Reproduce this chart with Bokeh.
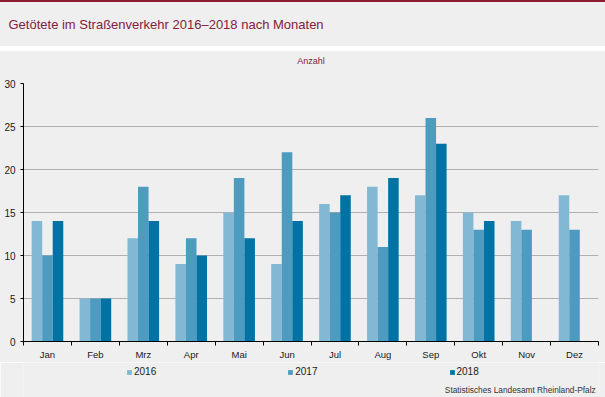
from bokeh.plotting import figure
from bokeh.models import (Range1d, FixedTicker, Legend, LegendItem, Title, ColumnDataSource)
from bokeh.transform import dodge
from bokeh.layouts import column
from bokeh.core.properties import value
from bokeh.embed import file_html
from bokeh.resources import INLINE

months = ["Jan", "Feb", "Mrz", "Apr", "Mai", "Jun", "Jul", "Aug", "Sep", "Okt", "Nov", "Dez"]
y2016 = [14, 5, 12, 9, 15, 9, 16, 18, 17, 15, 14, 17]
y2017 = [10, 5, 18, 12, 19, 22, 15, 11, 26, 13, 13, 13]
y2018 = [14, 5, 14, 10, 12, 14, 17, 19, 23, 14, None, None]
years = ["2016", "2017", "2018"]
colors = ["#82b8d3", "#4d9cc0", "#0072a4"]
y_ticks = [0, 5, 10, 15, 20, 25, 30]

title_text = "Getötete im Straßenverkehr 2016–2018 nach Monaten"
unit_text = "Anzahl"
source_text = "Statistisches Landesamt Rheinland-Pfalz"

FONT = "Liberation Sans"
W = 605
H1 = 362
H2 = 35
BG = "#eeefee"
RED = "#8b1c32"
TITLE_RED = "#84203d"

xs = [i + 0.5 for i in range(len(months))]
src = ColumnDataSource(dict(
    x=xs, m=months, y2016=y2016, y2017=y2017,
    y2018=[float("nan") if v is None else v for v in y2018],
))

# ---------------- chart figure ----------------
p = figure(width=W, height=H1, x_range=Range1d(0, len(months)), y_range=Range1d(0, 30),
           toolbar_location=None, output_backend="svg",
           min_border_left=23, min_border_right=7, min_border_top=83, min_border_bottom=20,
           background_fill_color=BG, border_fill_color=BG, border_fill_alpha=0,
           outline_line_color=None, title=title_text)
# page band: red top rule, grey title band, white separator, grey chart area
p.styles = {"background": ("linear-gradient(to bottom, %s 0px, %s 2px, %s 2px, %s 46px, "
                           "white 46px, white 51px, %s 51px, %s 100%%)")
            % (RED, RED, BG, BG, BG, BG)}
p.title.align = "left"
p.title.text_font = FONT
p.title.text_font_size = "13px"
p.title.text_font_style = "normal"
p.title.text_color = TITLE_RED
p.title.offset = -15
p.title.standoff = 7

xax = p.below[0]
yax = p.left[0]

unit = Title(text=unit_text, align="center", text_font=FONT, text_font_size="9px",
             text_font_style="normal", text_color=TITLE_RED, standoff=36)
p.add_layout(unit, "above")

offsets = [-0.22, 0.0, 0.22]
renderers = []
for col, off, c in zip(["y2016", "y2017", "y2018"], offsets, colors):
    r = p.vbar(x=dodge("x", off, range=p.x_range), top=col, width=0.22, source=src,
               fill_color=c, line_color=None)
    renderers.append(r)

xax.ticker = FixedTicker(ticks=xs, minor_ticks=list(range(len(months) + 1)))
xax.major_label_overrides = {x: m for x, m in zip(xs, months)}
xax.major_tick_line_color = None
xax.minor_tick_line_color = "black"
xax.minor_tick_in = 0
xax.minor_tick_out = 4
xax.axis_line_color = "black"
xax.major_label_standoff = 1
xax.major_label_text_font_size = "9.5px"

yax.ticker = FixedTicker(ticks=y_ticks)
yax.major_tick_in = 0
yax.major_tick_out = 3
yax.major_tick_line_color = "black"
yax.minor_tick_line_color = None
yax.axis_line_color = "black"
yax.major_label_standoff = 5
yax.major_label_text_font_size = "10px"

for ax in (xax, yax):
    ax.major_label_text_font = FONT
    ax.major_label_text_color = "#1a1a1a"

p.xgrid.visible = False
p.ygrid.grid_line_color = "#b0b0b0"
p.ygrid.grid_line_width = 1.2

# ---------------- legend / source figure ----------------
q = figure(width=W, height=H2, x_range=Range1d(0, W), y_range=Range1d(0, H2),
           x_axis_type=None, y_axis_type=None, toolbar_location=None, output_backend="svg",
           min_border=0, outline_line_color=None,
           background_fill_color=BG, border_fill_color=BG)
leg_renderers = []
for col, c in zip(["y2016", "y2017", "y2018"], colors):
    leg_renderers.append(q.vbar(x="x", top=col, width=0.22, source=src, fill_color=c,
                                line_color=None, visible=False))

legend = Legend(items=[LegendItem(label=y, renderers=[r]) for y, r in zip(years, leg_renderers)],
                orientation="horizontal", location=(103, 20), spacing=131,
                glyph_width=6, glyph_height=6, label_standoff=2,
                label_text_font=FONT, label_text_font_size="10px", label_text_color="#1a1a1a",
                label_height=10, background_fill_alpha=0, border_line_color=None,
                padding=2, margin=0)
q.add_layout(legend, "center")

q.text(x=[W - 3], y=[8], text=[source_text], text_font=value(FONT), text_font_size="8.3px",
       text_color="#333333", text_align="right", text_baseline="middle")

layout = column(p, q, spacing=0)

open("out.html", "w").write(file_html(layout, INLINE))
